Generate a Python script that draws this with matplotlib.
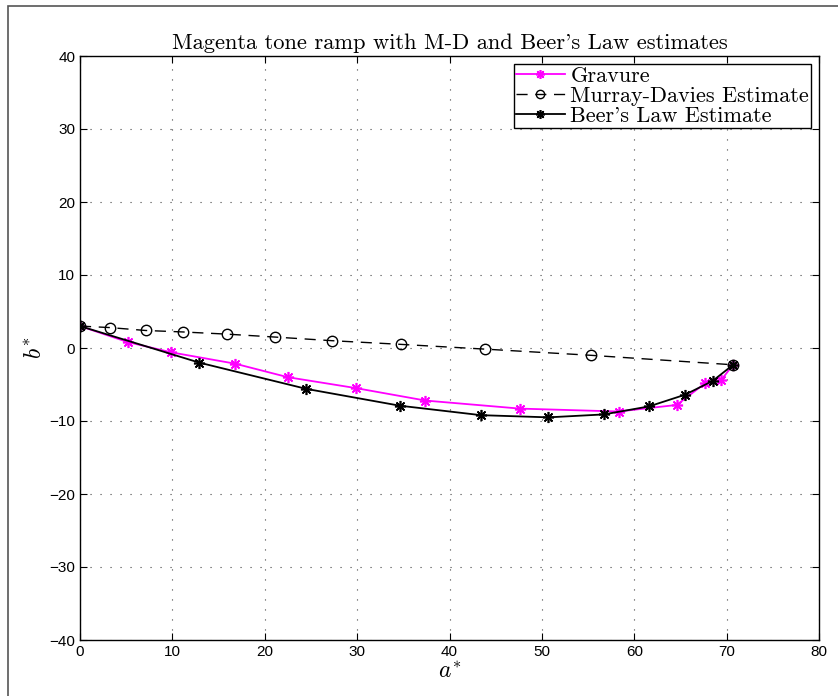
import matplotlib
matplotlib.use('Agg')
import matplotlib.pyplot as plt
from matplotlib.patches import Rectangle

# gravure measurements (a*, b*)
grav_a = [0.0, 5.2, 9.9, 16.8, 22.5, 29.9, 37.4, 47.6, 58.3, 64.6, 67.7, 69.4, 70.7]
grav_b = [3.0, 0.8, -0.6, -2.15, -4.0, -5.5, -7.2, -8.3, -8.7, -7.8, -4.8, -4.4, -2.3]

# Murray-Davies estimate
md_a = [0.0, 3.2, 7.1, 11.1, 15.9, 21.1, 27.3, 34.7, 43.8, 55.3, 70.7]
md_b = [3.0, 2.8, 2.4, 2.2, 1.9, 1.5, 1.0, 0.5, -0.15, -1.0, -2.3]

# Beer's law estimate
beer_a = [0.0, 12.9, 24.5, 34.6, 43.4, 50.7, 56.7, 61.6, 65.5, 68.5, 70.7]
beer_b = [3.0, -2.0, -5.6, -7.9, -9.2, -9.5, -9.1, -8.0, -6.4, -4.5, -2.3]

plt.rcParams['mathtext.fontset'] = 'cm'

fig = plt.figure(figsize=(8.38, 6.96), dpi=100)
ax = fig.add_axes([80/838, 1-640/696, 739/838, 584/696])

star = (8, 2, 0)  # matlab style asterisk
ax.plot(grav_a, grav_b, '-', color='magenta', marker=star, ms=8, mew=1.2, lw=1.3, label='Gravure')
ax.plot(md_a, md_b, '--', color='black', marker='o', ms=7.5, mfc='none', mew=1.0, lw=1.0,
        dashes=(8, 5.5), label='Murray-Davies Estimate')
ax.plot(beer_a, beer_b, '-', color='black', marker=star, ms=8, mew=1.2, lw=1.3, label="Beer's Law Estimate")

ax.set_xlim(0, 80)
ax.set_ylim(-40, 40)
ax.set_xticks(range(0, 81, 10))
ax.set_yticks(range(-40, 41, 10))
ax.grid(True, linestyle=(0, (1, 8)), color='#444444', lw=0.8)
ax.tick_params(direction='in', top=True, right=True, labelsize=11, length=5)
for lab in ax.get_xticklabels() + ax.get_yticklabels():
    lab.set_family('Liberation Sans')
for s in ax.spines.values():
    s.set_linewidth(1.0)

ax.set_title("Magenta tone ramp with M-D and Beer's Law estimates", family='cmr10', fontsize=16.2, pad=5)
ax.set_xlabel(r'$a^{*}$', fontsize=17, labelpad=0)
ax.set_ylabel(r'$b^{*}$', fontsize=17, labelpad=2)

leg = ax.legend(loc='upper right', prop={'family': 'cmr10', 'size': 16}, fancybox=False,
                edgecolor='black', framealpha=1, borderpad=0.1, labelspacing=0.02,
                handlelength=2.2, handletextpad=0.25, borderaxespad=0.35, markerscale=0.8)
leg.get_frame().set_linewidth(1.0)

# outer frame
fig.add_artist(Rectangle((8/838, -0.1), 1.2, 1 - 6/696 + 0.1, transform=fig.transFigure,
                         fill=False, edgecolor='#555555', lw=1.2))

fig.savefig('out.png', dpi=100)
